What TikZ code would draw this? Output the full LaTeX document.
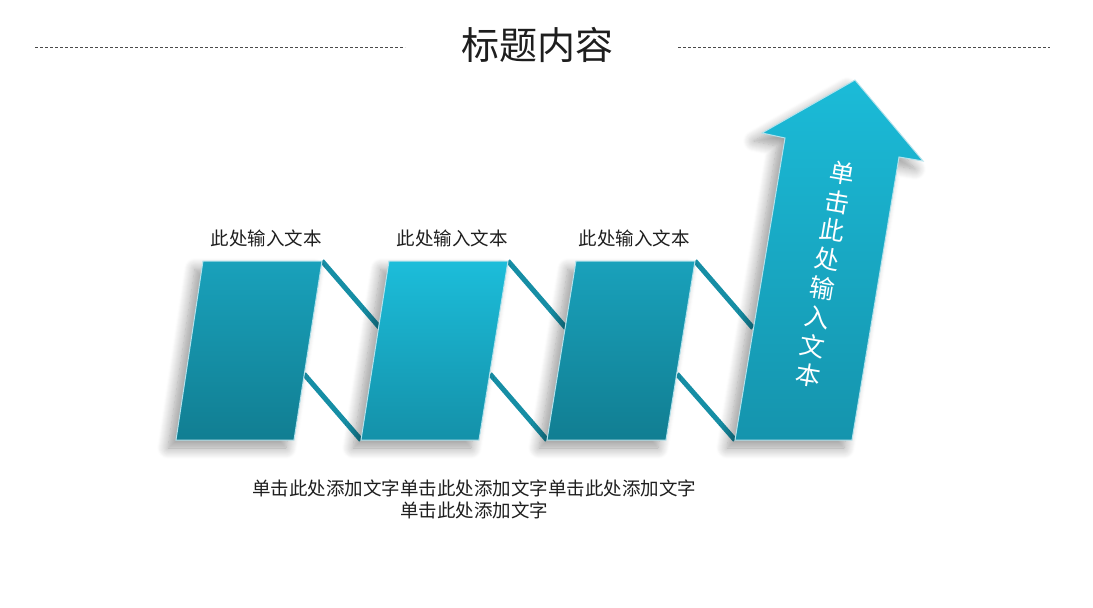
\documentclass[tikz,border=0pt]{standalone}
\usepackage{fontspec}
\setmainfont{Noto Sans CJK SC}
\usetikzlibrary{shadows.blur}
\definecolor{txt}{HTML}{1E1E1E}
\definecolor{dashc}{HTML}{4A4A4A}
\definecolor{pAtop}{HTML}{19A1BB}
\definecolor{pAbot}{HTML}{117E92}
\definecolor{pBtop}{HTML}{1CBDDA}
\definecolor{pBbot}{HTML}{1491A9}
\definecolor{arTop}{HTML}{1BBBD8}
\definecolor{arBot}{HTML}{1594AD}
\definecolor{stripc}{HTML}{168EA5}
\definecolor{edgec}{HTML}{B4E2EC}
\tikzset{
  dashline/.style={draw=dashc, line width=0.8pt, dash pattern=on 3pt off 2pt},
  stripline/.style={draw=stripc, line width=5pt, line cap=butt},
  panel/.style={draw=edgec, line width=1pt,
    blur shadow={shadow xshift=-8pt, shadow yshift=-8pt, shadow blur radius=11pt, shadow opacity=40, shadow blur steps=12}},
  lbl/.style={text=txt, font=\fontsize{18.5}{22}\selectfont, inner sep=0pt},
}
\begin{document}
\begin{tikzpicture}[x=1pt,y=-1pt]
\useasboundingbox (0,0) rectangle (1093,608);
% title
\node[text=txt, font=\fontsize{38}{44}\selectfont, inner sep=0pt] (title) at (537,45) {标题内容};
\coordinate (dl1) at (35,47); \coordinate (dl2) at (405,47);
\coordinate (dr1) at (678,47); \coordinate (dr2) at (1050,47);
\draw[dashline] (dl1) -- (dl2);
\draw[dashline] (dr1) -- (dr2);
% corner coordinates
\coordinate (a1) at (203,261); \coordinate (b1) at (322,261); \coordinate (c1) at (294,440); \coordinate (d1) at (176,440);
\coordinate (a2) at (389,261); \coordinate (b2) at (508,261); \coordinate (c2) at (479,440); \coordinate (d2) at (361,440);
\coordinate (a3) at (576,261); \coordinate (b3) at (695,261); \coordinate (c3) at (666,440); \coordinate (d3) at (547,440);
\coordinate (bl) at (735,440); \coordinate (br) at (852,440); \coordinate (sr) at (899,157);
\coordinate (wr) at (923,161); \coordinate (tip) at (855,80); \coordinate (wl) at (762,133); \coordinate (sl) at (785,138);
% strip end points
\coordinate (t1) at (380,328); \coordinate (m1) at (304,374);
\coordinate (t2) at (566,328); \coordinate (m2) at (490,374);
\coordinate (t3) at (753,328); \coordinate (m3) at (677,374);
% strips behind
\draw[stripline] (b1) -- (t1);
\draw[stripline] (m1) -- (d2);
\draw[stripline] (b2) -- (t2);
\draw[stripline] (m2) -- (d3);
\draw[stripline] (b3) -- (t3);
\draw[stripline] (m3) -- (bl);
% panels
\path[panel, top color=pAtop, bottom color=pAbot] (a1) -- (b1) -- (c1) -- (d1) -- cycle;
\path[panel, top color=pBtop, bottom color=pBbot] (a2) -- (b2) -- (c2) -- (d2) -- cycle;
\path[panel, top color=pAtop, bottom color=pAbot] (a3) -- (b3) -- (c3) -- (d3) -- cycle;
\path[panel, top color=arTop, bottom color=arBot] (bl) -- (sl) -- (wl) -- (tip) -- (wr) -- (sr) -- (br) -- cycle;
% labels
\node[lbl] (l1) at (266,238) {此处输入文本};
\node[lbl] (l2) at (452,238) {此处输入文本};
\node[lbl] (l3) at (634,238) {此处输入文本};
\node[text=white, rotate=-9.6, font=\fontsize{25}{29.3}\selectfont, align=center, inner sep=0pt] (at) at (825,274) {单\\击\\此\\处\\输\\入\\文\\本};
\node[lbl, align=center] (bottom) at (474,499) {单击此处添加文字单击此处添加文字单击此处添加文字\\单击此处添加文字};
\end{tikzpicture}
\end{document}
